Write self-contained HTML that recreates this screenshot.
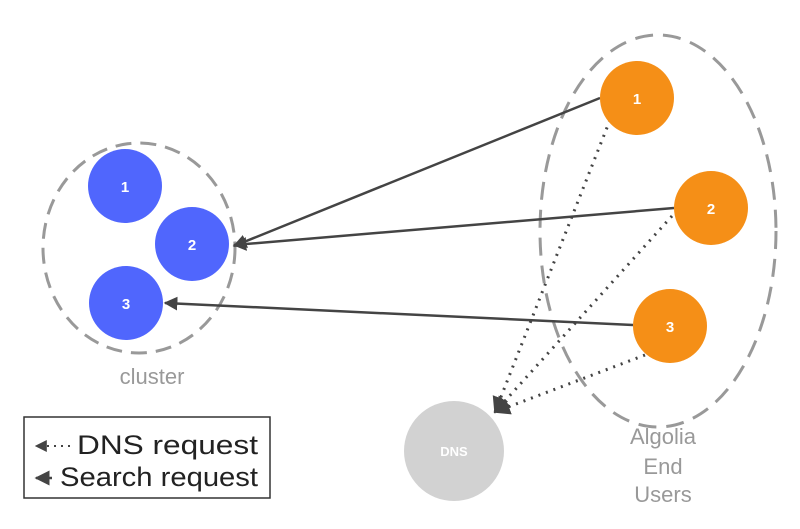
<!DOCTYPE html>
<html><head><style>body{margin:0;background:#fff}svg{display:block}</style></head><body>
<svg width="800" height="529" viewBox="0 0 800 529" xmlns="http://www.w3.org/2000/svg" font-family="Liberation Sans, sans-serif">
<defs>
<marker id="a" viewBox="0 0 10 10" refX="9" refY="5" markerWidth="5.5" markerHeight="5.5" orient="auto-start-reverse"><path d="M0,0L10,5L0,10z" fill="#444"/></marker>
<marker id="b" viewBox="0 0 10 10" refX="9" refY="5" markerWidth="6" markerHeight="6" orient="auto-start-reverse"><path d="M0,0L10,5L0,10z" fill="#444"/></marker>
</defs>
<ellipse cx="139" cy="248" rx="96" ry="105" fill="none" stroke="#999" stroke-width="3" stroke-dasharray="16,9"/>
<ellipse cx="658" cy="231" rx="118" ry="196" fill="none" stroke="#999" stroke-width="3" stroke-dasharray="18,10"/>
<circle cx="125" cy="186" r="37" fill="#5066fd"/>
<circle cx="192" cy="244" r="37" fill="#5066fd"/>
<circle cx="126" cy="303" r="37" fill="#5066fd"/>
<g fill="#fff" font-weight="bold" font-size="15" text-anchor="middle">
<text x="125" y="192">1</text><text x="192" y="250">2</text><text x="126" y="309">3</text>
</g>
<circle cx="454" cy="451" r="50" fill="#d2d2d2"/>
<text x="454" y="456" fill="#fff" font-size="13" font-weight="bold" text-anchor="middle">DNS</text>
<g stroke="#444" stroke-width="2.5" fill="none">
<line x1="600" y1="98" x2="234" y2="246" marker-end="url(#a)"/>
<line x1="674" y1="208" x2="234" y2="245" marker-end="url(#a)"/>
<line x1="633" y1="325" x2="165" y2="303" marker-end="url(#a)"/>
</g>
<g stroke="#444" stroke-width="3" stroke-dasharray="2,6" fill="none">
<line x1="610" y1="120" x2="495" y2="412" marker-end="url(#a)"/>
<line x1="672" y1="216" x2="495" y2="412" marker-end="url(#a)"/>
<line x1="645" y1="355" x2="495" y2="412" marker-end="url(#a)"/>
</g>
<circle cx="637" cy="98" r="37" fill="#f58f17"/>
<circle cx="711" cy="208" r="37" fill="#f58f17"/>
<circle cx="670" cy="326" r="37" fill="#f58f17"/>
<g fill="#fff" font-weight="bold" font-size="15" text-anchor="middle">
<text x="637" y="104">1</text><text x="711" y="214">2</text><text x="670" y="332">3</text>
</g>
<text x="152" y="384" fill="#999" font-size="22" text-anchor="middle">cluster</text>
<g fill="#999" font-size="22" text-anchor="middle">
<text x="663" y="444">Algolia</text><text x="663" y="474">End</text><text x="663" y="502">Users</text>
</g>
<rect x="24" y="417" width="246" height="81" fill="#fff" stroke="#333" stroke-width="1.5"/>
<line x1="70" y1="446" x2="36" y2="446" stroke="#444" stroke-width="2" stroke-dasharray="2,5" marker-end="url(#b)"/>
<line x1="52" y1="478" x2="36" y2="478" stroke="#444" stroke-width="2.5" marker-end="url(#b)"/>
<text x="77" y="454" font-size="27" fill="#222" textLength="181" lengthAdjust="spacingAndGlyphs">DNS request</text>
<text x="60" y="486" font-size="27" fill="#222" textLength="198" lengthAdjust="spacingAndGlyphs">Search request</text>
</svg>
</body></html>
